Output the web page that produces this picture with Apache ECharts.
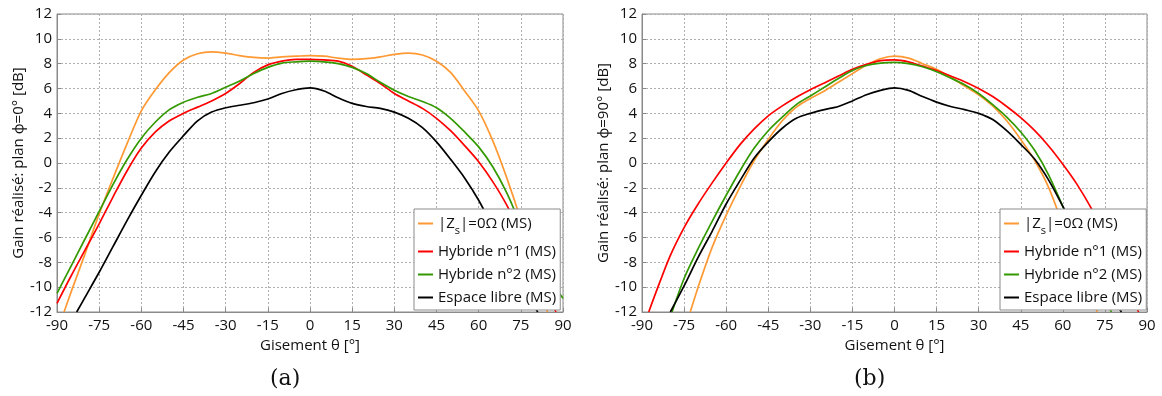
<!DOCTYPE html>
<html>
<head>
<meta charset="utf-8">
<script src="https://cdn.jsdelivr.net/npm/echarts@6/dist/echarts.min.js"></script>
<style>
html,body{margin:0;padding:0;background:#fff;}
#c{width:1162px;height:396px;}
</style>
</head>
<body>
<div id="c"></div>
<script>
// ---------- Data ----------
const seriesNames = ['|Z_s|=0Ω (MS)', 'Hybride n°1 (MS)', 'Hybride n°2 (MS)', 'Espace libre (MS)'];
const xTicks = [-90, -75, -60, -45, -30, -15, 0, 15, 30, 45, 60, 75, 90];
const yTicks = [-12, -10, -8, -6, -4, -2, 0, 2, 4, 6, 8, 10, 12];

// (a) plan phi = 0°
const a_orange_theta = [-87.5,-85,-80,-75,-70,-65,-60,-55,-50,-45,-40,-35,-30,-25,-20,-15,-10,-5,0,5,10,15,20,25,30,35,40,45,50,55,60,65,70,75,80,84.5];
const a_orange_gain  = [-12,-10.4,-7.3,-4.1,-1.2,1.6,4.2,5.9,7.3,8.3,8.8,8.95,8.85,8.65,8.5,8.45,8.55,8.6,8.65,8.6,8.45,8.35,8.4,8.55,8.75,8.85,8.7,8.2,7.3,5.8,4.2,1.8,-1.2,-4.6,-8.5,-12];

const a_red_theta = [-90,-85,-80,-75,-70,-65,-60,-55,-50,-45,-40,-35,-30,-25,-20,-15,-10,-5,0,5,10,15,20,25,30,35,40,45,50,55,60,65,70,75,80,85,87.5];
const a_red_gain  = [-11.3,-9.1,-7.0,-4.9,-2.7,-0.6,1.2,2.5,3.4,4.0,4.5,5.0,5.6,6.4,7.3,7.9,8.2,8.35,8.35,8.3,8.2,7.8,7.1,6.4,5.6,5.0,4.4,3.6,2.6,1.4,0.1,-1.5,-3.4,-5.8,-8.3,-10.8,-12];

const a_green_theta = [-90,-85,-80,-75,-70,-65,-60,-55,-50,-45,-40,-35,-30,-25,-20,-15,-10,-5,0,5,10,15,20,25,30,35,40,45,50,55,60,65,70,75,80,85,90];
const a_green_gain  = [-10.5,-8.3,-6.1,-3.9,-1.7,0.3,2.0,3.3,4.3,4.9,5.3,5.6,6.1,6.6,7.2,7.7,8.05,8.15,8.2,8.15,8.0,7.7,7.2,6.5,5.85,5.35,4.95,4.45,3.6,2.5,1.3,-0.3,-2.4,-5.0,-7.4,-9.3,-10.9];

const a_black_theta = [-83,-80,-75,-70,-65,-60,-55,-50,-45,-40,-35,-30,-25,-20,-15,-10,-5,0,5,10,15,20,25,30,35,40,45,50,55,60,65,70,75,81];
const a_black_gain  = [-12,-10.8,-8.8,-6.7,-4.6,-2.6,-0.7,0.9,2.2,3.4,4.1,4.45,4.65,4.85,5.15,5.6,5.9,6.05,5.8,5.25,4.8,4.55,4.4,4.1,3.6,2.85,1.7,0.3,-1.2,-3.0,-5.2,-7.6,-9.6,-12];

// (b) plan phi = 90°
const b_orange_theta = [-72.8,-70,-65,-60,-55,-50,-45,-40,-35,-30,-25,-20,-15,-10,-5,0,5,10,15,20,25,30,35,40,45,50,55,60,65,70,72.3];
const b_orange_gain  = [-12,-10.0,-6.8,-4.2,-1.9,0.2,1.9,3.4,4.5,5.2,5.8,6.5,7.2,7.9,8.4,8.6,8.45,8.0,7.55,6.9,6.2,5.5,4.6,3.4,1.9,0.2,-2.0,-5.0,-8.1,-10.9,-12];

const b_red_theta = [-87.6,-85,-80,-75,-70,-65,-60,-55,-50,-45,-40,-35,-30,-25,-20,-15,-10,-5,0,5,10,15,20,25,30,35,40,45,50,55,60,65,70,75,80,85,87];
const b_red_gain  = [-12,-10.4,-7.5,-5.2,-3.3,-1.6,0.0,1.5,2.75,3.8,4.6,5.3,5.9,6.45,7.0,7.55,7.95,8.25,8.3,8.15,7.8,7.45,7.0,6.55,6.0,5.35,4.55,3.65,2.6,1.35,-0.1,-1.7,-3.6,-5.9,-8.4,-11.0,-12];

const b_green_theta = [-79.3,-75,-70,-65,-60,-55,-50,-45,-40,-35,-30,-25,-20,-15,-10,-5,0,5,10,15,20,25,30,35,40,45,50,55,60,65,70,75,77.3];
const b_green_gain  = [-12,-9.3,-6.9,-4.7,-2.6,-0.6,1.2,2.6,3.7,4.7,5.4,6.1,6.8,7.45,7.85,8.05,8.1,8.0,7.75,7.35,6.85,6.3,5.6,4.7,3.7,2.5,1.0,-1.0,-3.5,-6.0,-8.5,-10.9,-12];

const b_black_theta = [-79.9,-75,-70,-65,-60,-55,-50,-45,-40,-35,-30,-25,-20,-15,-10,-5,0,5,10,15,20,25,30,35,40,45,50,55,60,65,70,75,80.9];
const b_black_gain  = [-12,-9.9,-7.6,-5.5,-3.3,-1.4,0.4,1.7,2.8,3.6,4.0,4.3,4.55,5.0,5.5,5.85,6.05,5.85,5.35,4.9,4.55,4.3,4.0,3.5,2.6,1.5,0.3,-1.4,-3.5,-5.8,-8.0,-10.0,-12];

// ---------- Chart ----------
const colors = ['#FF9933', '#FF0000', '#339900', '#000000'];
const FONT = '"Open Sans", "Noto Sans", sans-serif';
function pairs(t, g){ return t.map((x,i)=>[x,g[i]]); }

const chart = echarts.init(document.getElementById('c'), null, {renderer:'canvas'});

const gridDefs = [
  {left:57, top:14, width:506, height:298},
  {left:642, top:14, width:505, height:298}
];
const yNames = ['Gain réalisé: plan ϕ=0° [dB]', 'Gain réalisé: plan ϕ=90° [dB]'];

function xAxis(i){
  return {
    gridIndex:i, type:'value', min:-90, max:90, interval:15,
    name:'Gisement θ [°]', nameLocation:'middle', nameGap:18,
    nameTextStyle:{fontFamily:FONT, fontSize:15, color:'#111'},
    axisLine:{show:true, onZero:false, lineStyle:{color:'#8a8a8a', width:1}},
    axisTick:{show:true, inside:true, length:4, lineStyle:{color:'#8a8a8a'}},
    axisLabel:{fontFamily:FONT, fontSize:15, color:'#111', margin:6,
      formatter:(v)=> xTicks.includes(v) ? String(v) : ''},
    splitLine:{show:true, lineStyle:{color:'#b0b0b0', type:[2,2], width:1}}
  };
}
function yAxis(i){
  return {
    gridIndex:i, type:'value', min:-12, max:12, interval:2,
    name:yNames[i], nameLocation:'middle', nameGap:31, nameRotate:90,
    nameTextStyle:{fontFamily:FONT, fontSize:15, color:'#111'},
    axisLine:{show:true, onZero:false, lineStyle:{color:'#8a8a8a', width:1}},
    axisTick:{show:true, inside:true, length:4, lineStyle:{color:'#8a8a8a'}},
    axisLabel:{fontFamily:FONT, fontSize:15, color:'#111', margin:5,
      formatter:(v)=> yTicks.includes(v) ? String(v) : ''},
    splitLine:{show:true, lineStyle:{color:'#b0b0b0', type:[2,2], width:1}}
  };
}

const dataSets = [
  [pairs(a_orange_theta,a_orange_gain), pairs(a_red_theta,a_red_gain), pairs(a_green_theta,a_green_gain), pairs(a_black_theta,a_black_gain)],
  [pairs(b_orange_theta,b_orange_gain), pairs(b_red_theta,b_red_gain), pairs(b_green_theta,b_green_gain), pairs(b_black_theta,b_black_gain)]
];

const zOrder = [2, 3, 4, 5];
const series = [];
for (let g=0; g<2; g++){
  for (let s=0; s<4; s++){
    series.push({
      name: seriesNames[s], type:'line', xAxisIndex:g, yAxisIndex:g,
      data: dataSets[g][s], smooth:0.3, showSymbol:false, symbol:'none',
      clip:true, z: zOrder[s],
      lineStyle:{color:colors[s], width:1.7},
      itemStyle:{color:colors[s]}
    });
  }
}

function legend(left){
  return {
    orient:'vertical', left:left, top:209, icon:'rect', itemWidth:15, itemHeight:2,
    itemGap:8, padding:[7,4,5,4], z:20, zlevel:0,
    backgroundColor:'#ffffff', borderColor:'#8a8a8a', borderWidth:1,
    data: seriesNames, selectedMode:false,
    textStyle:{fontFamily:FONT, fontSize:15, color:'#111',
      rich:{ sub:{fontFamily:FONT, fontSize:11, color:'#111', verticalAlign:'bottom', padding:[14,0,0,0]},
             n:{fontFamily:FONT, fontSize:15, color:'#111'} }},
    itemStyle:{borderWidth:0},
    formatter:(name)=> name.startsWith('|Z_s|') ? '{n||Z}{sub|s}{n||=0Ω (MS)}' : name
  };
}

chart.setOption({
  animation:false,
  backgroundColor:'#ffffff',
  grid: gridDefs.map(g=>Object.assign({show:true, borderColor:'#8a8a8a', borderWidth:1, backgroundColor:'transparent', containLabel:false}, g)),
  xAxis:[xAxis(0), xAxis(1)],
  yAxis:[yAxis(0), yAxis(1)],
  legend:[legend(414), legend(1000)],
  series: series,
  graphic:[
    {type:'text', left:270, top:368, style:{text:'(a)', font:'22px "DejaVu Serif", "Liberation Serif", serif', fill:'#111'}},
    {type:'text', left:854, top:368, style:{text:'(b)', font:'22px "DejaVu Serif", "Liberation Serif", serif', fill:'#111'}}
  ]
});
</script>
</body>
</html>
